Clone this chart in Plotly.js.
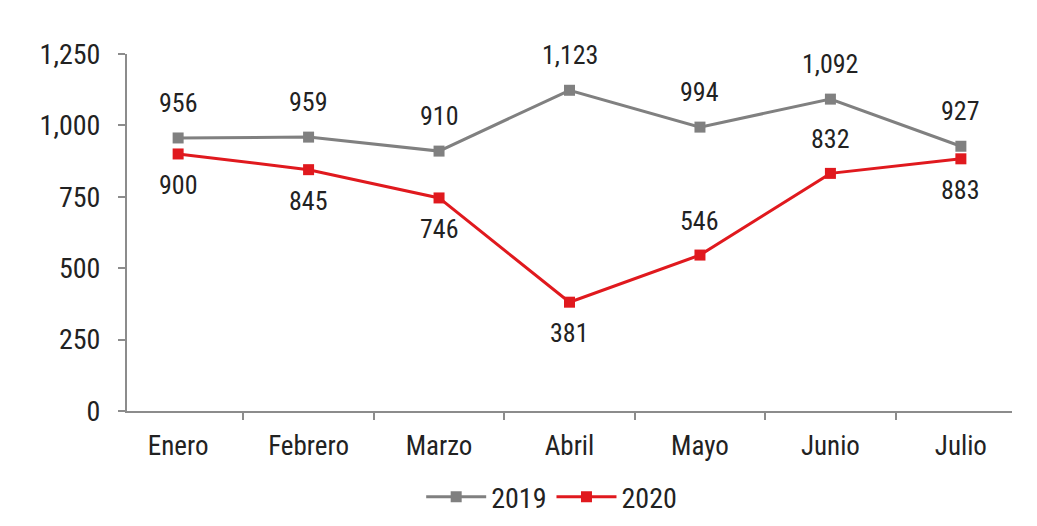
<!DOCTYPE html>
<html><head><meta charset="utf-8">
<script src="https://cdn.plot.ly/plotly-3.0.1.min.js"></script>
<style>html,body{margin:0;padding:0;background:#fff}#c{width:1037px;height:526px}</style>
</head><body><div id="c"></div>
<script>
const months = ["Enero","Febrero","Marzo","Abril","Mayo","Junio","Julio"];
const v2019 = [956, 959, 910, 1123, 994, 1092, 927];
const v2020 = [900, 845, 746, 381, 546, 832, 883];
const pos2019 = ["above","above","above","above","above","above","above"];
const pos2020 = ["below","below","below","below","above","above","below"];

const FONT = "'Liberation Sans Narrow', 'Arial Narrow', 'Roboto Condensed', 'Liberation Sans', sans-serif";
const TXT = "#222222";
const GRAY = "#808080", RED = "#e0191e";

const traces = [
  {x: months, y: v2019, name: "2019", type: "scatter", mode: "lines+markers",
   line: {color: GRAY, width: 3}, marker: {symbol: "square", size: 11, color: GRAY}},
  {x: months, y: v2020, name: "2020", type: "scatter", mode: "lines+markers",
   line: {color: RED, width: 3}, marker: {symbol: "square", size: 11, color: RED}}
];

const fmt = v => v.toLocaleString("en-US");
const annotations = [];
months.forEach((m, i) => {
  annotations.push({x: m, y: v2019[i], text: fmt(v2019[i]), showarrow: false,
    yshift: pos2019[i] === "above" ? 35 : -31, font: {family: FONT, size: 26, color: TXT}});
  annotations.push({x: m, y: v2020[i], text: fmt(v2020[i]), showarrow: false,
    yshift: pos2020[i] === "above" ? 34 : -31, font: {family: FONT, size: 26, color: TXT}});
});

const layout = {
  width: 1037, height: 526,
  margin: {l: 127, r: 25, t: 54, b: 115},
  paper_bgcolor: "#ffffff", plot_bgcolor: "#ffffff",
  font: {family: FONT, color: TXT},
  showlegend: true,
  legend: {orientation: "h", xref: "container", yref: "container",
    x: 0.532, xanchor: "center", y: 0.055, yanchor: "middle",
    font: {family: FONT, size: 28, color: TXT}, itemwidth: 60, tracegroupgap: 0},
  xaxis: {type: "category", automargin: false, showgrid: false, zeroline: false, showline: true,
    linecolor: "#8c8c8c", linewidth: 2, ticks: "outside", tickson: "boundaries",
    ticklen: 7, tickcolor: "#8c8c8c", tickwidth: 2, ticklabelstandoff: 10,
    tickfont: {family: FONT, size: 27, color: TXT}, fixedrange: true},
  yaxis: {range: [0, 1250], automargin: false, tickvals: [0, 250, 500, 750, 1000, 1250], tickformat: ",d",
    showgrid: false, zeroline: false, showline: true, linecolor: "#8c8c8c", linewidth: 2,
    ticks: "outside", ticklen: 7, tickcolor: "#8c8c8c", tickwidth: 2, ticklabelstandoff: 12,
    tickfont: {family: FONT, size: 28, color: TXT}, fixedrange: true},
  annotations: annotations
};

Plotly.newPlot("c", traces, layout, {displayModeBar: false, staticPlot: true});
</script></body></html>
